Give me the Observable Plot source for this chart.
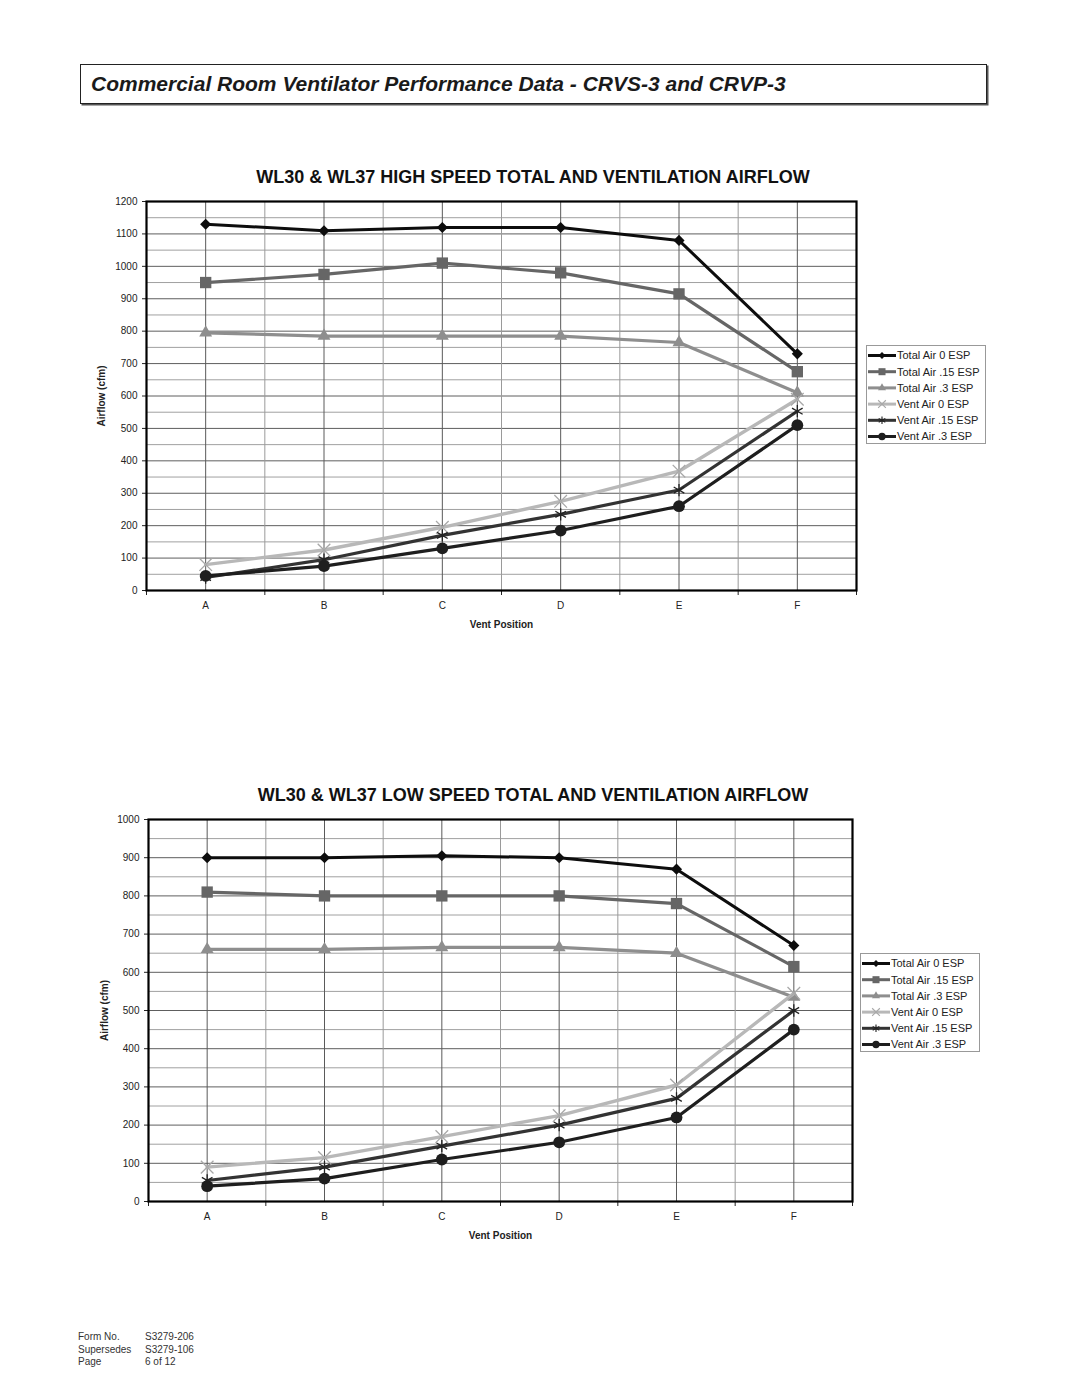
<!DOCTYPE html>
<html><head><meta charset="utf-8">
<script src="https://cdn.jsdelivr.net/npm/d3@7"></script>
<script src="https://cdn.jsdelivr.net/npm/@observablehq/plot@0.6"></script>
<style>
body{margin:0;background:#fff;font-family:"Liberation Sans",Arial,sans-serif;}
#page{position:relative;width:1080px;height:1397px;overflow:hidden;background:#fff;}
.hdr{position:absolute;left:80px;top:64px;width:905px;height:38px;border:1.5px solid #222;box-shadow:1.5px 1.5px 0 #555;}
.hdr span{position:absolute;left:10px;top:8px;font-style:italic;font-weight:bold;font-size:21px;line-height:1;color:#1a1a1a;white-space:nowrap;}
.ctitle{position:absolute;left:0;width:1066px;text-align:center;font-weight:bold;font-size:18px;line-height:1;color:#111;white-space:nowrap;}
.chart{position:absolute;left:0;}
.legend{position:absolute;border:1px solid #999;background:#fff;}
.footer{position:absolute;left:78px;top:1331px;font-size:10px;color:#333;line-height:12.5px;}
.footer div span{display:inline-block;width:67px;}
</style></head>
<body><div id="page">
<div class="hdr"><span>Commercial Room Ventilator Performance Data - CRVS-3 and CRVP-3</span></div>
<div class="ctitle" style="top:168px">WL30 &amp; WL37 HIGH SPEED TOTAL AND VENTILATION AIRFLOW</div>
<div class="ctitle" style="top:786px">WL30 &amp; WL37 LOW SPEED TOTAL AND VENTILATION AIRFLOW</div>
<div class="footer">
<div><span>Form No.</span>S3279-206</div>
<div><span>Supersedes</span>S3279-106</div>
<div><span>Page</span>6 of 12</div>
</div>
</div>
<script>
// ---- data ----
const positions = ["A", "B", "C", "D", "E", "F"];
const seriesNames = ["Total Air 0 ESP", "Total Air .15 ESP", "Total Air .3 ESP", "Vent Air 0 ESP", "Vent Air .15 ESP", "Vent Air .3 ESP"];
const yTicksHigh = [0, 100, 200, 300, 400, 500, 600, 700, 800, 900, 1000, 1100, 1200];
const yTicksLow = [0, 100, 200, 300, 400, 500, 600, 700, 800, 900, 1000];

const highTotal0 = [1130, 1110, 1120, 1120, 1080, 730];
const highTotal15 = [950, 975, 1010, 980, 915, 675];
const highTotal3 = [795, 785, 785, 785, 765, 610];
const highVent0 = [80, 125, 195, 275, 368, 590];
const highVent15 = [40, 95, 170, 235, 310, 553];
const highVent3 = [45, 75, 130, 185, 260, 510];

const lowTotal0 = [900, 900, 905, 900, 870, 670];
const lowTotal15 = [810, 800, 800, 800, 780, 615];
const lowTotal3 = [660, 660, 665, 665, 650, 535];
const lowVent0 = [90, 115, 170, 225, 305, 545];
const lowVent15 = [55, 90, 145, 200, 270, 500];
const lowVent3 = [40, 60, 110, 155, 220, 450];

// ---- styles ----
const styles = [
  {color: "#0d0d0d", symbol: "diamond2", d3sym: d3.symbolDiamond2, r: 5, filled: true, width: 3},
  {color: "#666666", symbol: "square", d3sym: d3.symbolSquare, r: 6.4, filled: true, width: 3.2},
  {color: "#8e8e8e", symbol: "triangle", d3sym: d3.symbolTriangle, r: 4.8, filled: true, width: 3.2},
  {color: "#b8b8b8", symbol: "times", d3sym: d3.symbolTimes, r: 5.8, filled: false, width: 3.4},
  {color: "#333333", symbol: "asterisk", d3sym: d3.symbolAsterisk, r: 5.8, filled: false, width: 3.2},
  {color: "#1e1e1e", symbol: "circle", d3sym: d3.symbolCircle, r: 5.9, filled: true, width: 3.2}
];

function buildTable(seriesValues) {
  const rows = [];
  seriesValues.forEach((vals, si) => vals.forEach((v, i) => rows.push({series: seriesNames[si], si, pos: i, cat: positions[i], value: v})));
  return rows;
}

function makeChart(opts) {
  const table = buildTable(opts.values);
  const ymax = d3.max(opts.yTicks);
  const grid = d3.range(0, ymax + 1, 50);
  const vgrid = d3.range(-0.5, positions.length - 0.49, 0.5);
  const bounds = d3.range(-0.5, positions.length - 0.49, 1);
  const marks = [
    Plot.ruleY(grid, {stroke: d => d % 100 === 0 ? "#5e5e5e" : "#a0a0a0", strokeWidth: 1}),
    Plot.ruleX(vgrid, {stroke: (d, i) => i % 2 === 1 ? "#5a5a5a" : "#9a9a9a", strokeWidth: 1}),
    Plot.axisY({ticks: opts.yTicks, tickSize: 4, tickPadding: 5, fontSize: 10, tickFormat: d3.format("d"), label: null}),
    Plot.axisX({ticks: bounds, tickSize: 5, tickFormat: () => "", label: null}),
    Plot.axisX({ticks: d3.range(positions.length), tickSize: 0, tickPadding: 11, fontSize: 10, tickFormat: i => positions[i], label: null})
  ];
  styles.forEach((s, si) => {
    const rows = table.filter(d => d.si === si);
    marks.push(Plot.line(rows, {x: "pos", y: "value", stroke: s.color, strokeWidth: s.width, strokeLinejoin: "round"}));
    marks.push(Plot.dot(rows, {x: "pos", y: "value", symbol: s.symbol, r: s.r,
      fill: s.filled ? s.color : "none", stroke: s.filled ? "none" : (si === 3 ? "#a8a8a8" : "#222"), strokeWidth: s.filled ? 0 : 1.3}));
  });
  marks.push(Plot.frame({stroke: "#000", strokeWidth: 2.2}));
  marks.push(Plot.text(["Airflow (cfm)"], {frameAnchor: "left", dx: -opts.labelOffset, rotate: -90, textAnchor: "middle", lineAnchor: "middle", fontWeight: "bold", fontSize: 10}));
  marks.push(Plot.text(["Vent Position"], {frameAnchor: "bottom", dy: 34, textAnchor: "middle", lineAnchor: "middle", fontWeight: "bold", fontSize: 10}));
  const svg = Plot.plot({
    width: 1080,
    height: opts.height,
    marginLeft: opts.ml, marginRight: opts.mr, marginTop: 11, marginBottom: 50,
    x: {type: "linear", domain: [-0.5, positions.length - 0.5], label: null},
    y: {type: "linear", domain: [0, ymax], label: null},
    style: {fontFamily: "Liberation Sans, Arial, sans-serif", fontSize: "10px", color: "#222", background: "transparent", overflow: "visible"},
    marks
  });
  const holder = document.createElement("div");
  holder.className = "chart";
  holder.style.top = opts.top + "px";
  holder.appendChild(svg);
  document.getElementById("page").appendChild(holder);
}

function makeLegend(left, top) {
  const div = d3.select("#page").append("div").attr("class", "legend")
    .style("left", left + "px").style("top", top + "px").style("width", "118px").style("height", "97px");
  const svg = div.append("svg").attr("width", 118).attr("height", 97);
  styles.forEach((s, i) => {
    const g = svg.append("g").attr("transform", `translate(0,${9.5 + i * 16.2})`);
    g.append("line").attr("x1", 1).attr("x2", 29).attr("stroke", s.color).attr("stroke-width", 3);
    const rr = s.r * 0.62;
    g.append("path").attr("transform", "translate(15,0)")
      .attr("d", d3.symbol(s.d3sym, Math.PI * rr * rr)())
      .attr("fill", s.filled ? s.color : "none")
      .attr("stroke", s.filled ? "none" : (i === 3 ? "#a8a8a8" : "#222"))
      .attr("stroke-width", s.filled ? 0 : 1.1);
    g.append("text").attr("x", 30).attr("dy", "0.36em").attr("font-size", 11)
      .attr("fill", "#222").attr("font-family", "Liberation Sans, Arial, sans-serif").text(seriesNames[i]);
  });
}

makeChart({values: [highTotal0, highTotal15, highTotal3, highVent0, highVent15, highVent3],
  yTicks: yTicksHigh, top: 190, height: 450, ml: 146, mr: 224, labelOffset: 45});
makeChart({values: [lowTotal0, lowTotal15, lowTotal3, lowVent0, lowVent15, lowVent3],
  yTicks: yTicksLow, top: 808, height: 443, ml: 148, mr: 228, labelOffset: 44});
makeLegend(866, 345);
makeLegend(860, 953);
</script>
</body></html>
